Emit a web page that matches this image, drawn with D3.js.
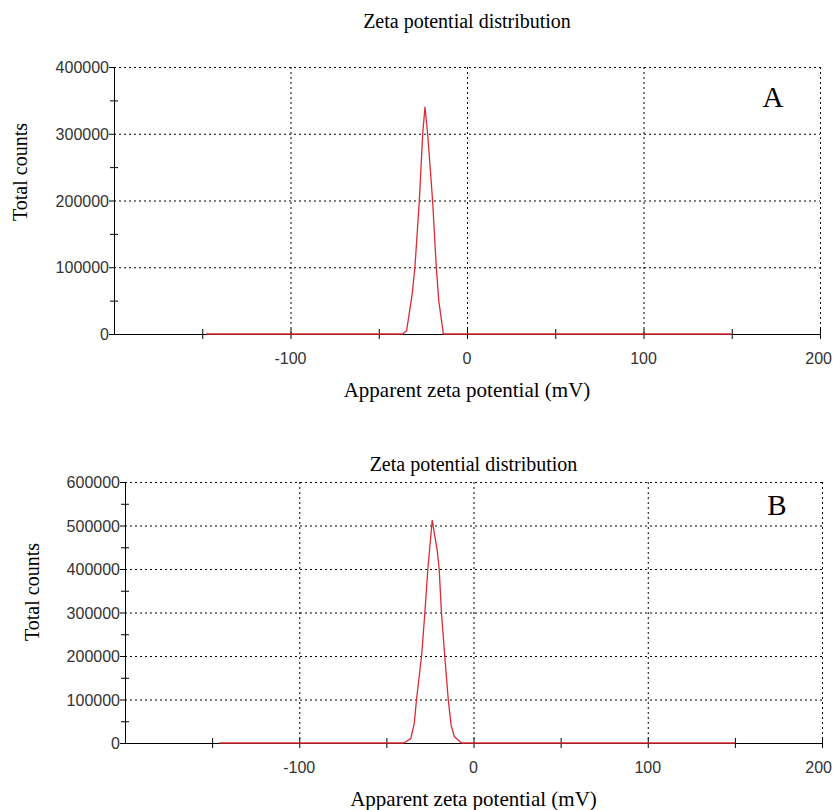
<!DOCTYPE html>
<html lang="en">
<head>
    <meta charset="UTF-8">
    <title>Zeta potential distribution</title>
    <style>
        body { margin: 0; background: #fff; }
        svg { display: block; }
        .title, .axis-title, .panel { font-family: "Liberation Serif", "Times New Roman", serif; fill: #000; }
        .tick-label { font-family: "Liberation Sans", Arial, sans-serif; font-size: 16px; fill: #333; }
        .grid { stroke: #000; stroke-width: 1; stroke-dasharray: 2,3; fill: none; }
    </style>
</head>
<body>
    <div id="chart"></div>
    <script src="https://d3js.org/d3.v7.min.js"></script>
    <script>
        // shared x axis
        const xDomain   = [-200, 200];
        const xTicks    = [-200, -150, -100, -50, 0, 50, 100, 150, 200];
        const xLabels   = [-100, 0, 100, 200];

        // panel A
        const aPotential = [-148, -36.4, -34.2, -31.0, -29.5, -27.0, -25.1, -23.8, -22.3, -19.5, -17.4, -16.0, -13.4, 150];
        const aCounts    = [0, 0, 5000, 61000, 100000, 200000, 300000, 340000, 300000, 200000, 100000, 50000, 0, 0];
        const aYTicks    = [0, 100000, 200000, 300000, 400000];

        // panel B
        const bPotential = [-146, -40, -36, -34, -32.7, -29.8, -27.9, -26.2, -23.7, -20.8, -19.7, -18.4, -16.5, -14.5, -12.8, -11, -7, 150];
        const bCounts    = [0, 0, 10000, 45000, 100000, 200000, 300000, 400000, 512000, 442000, 400000, 300000, 200000, 100000, 40000, 15000, 0, 0];
        const bYTicks    = [0, 100000, 200000, 300000, 400000, 500000, 600000];

        const width  = 833;
        const height = 810;

        const svg = d3.select("#chart").append("svg")
            .attr("width", width).attr("height", height);

        const panels = [
            { name: "A", xs: aPotential, ys: aCounts, yTicks: aYTicks,
              left: 114, right: 820, top: 67, bottom: 334,
              titleY: 28, xTitleY: 397, yTitleX: 27, yTitleY: 172, letter: [773, 107] },
            { name: "B", xs: bPotential, ys: bCounts, yTicks: bYTicks,
              left: 125, right: 822, top: 482, bottom: 743,
              titleY: 471, xTitleY: 806, yTitleX: 39, yTitleY: 592, letter: [777, 515] }
        ];

        panels.forEach(p => {
            const x = d3.scaleLinear().domain(xDomain).range([p.left, p.right]);
            const yMax = d3.max(p.yTicks);
            const y = d3.scaleLinear().domain([0, yMax]).range([p.bottom, p.top]);
            const g = svg.append("g");

            // dotted grid + frame
            g.selectAll(".hgrid").data(p.yTicks.filter(d => d > 0)).enter().append("line")
                .attr("class", "grid")
                .attr("x1", p.left).attr("x2", p.right)
                .attr("y1", d => y(d) + 0.5).attr("y2", d => y(d) + 0.5);
            g.selectAll(".vgrid").data(xLabels).enter().append("line")
                .attr("class", "grid")
                .attr("x1", d => x(d) + 0.5).attr("x2", d => x(d) + 0.5)
                .attr("y1", p.top).attr("y2", p.bottom);

            // axes lines
            g.append("line").attr("x1", p.left + 0.5).attr("x2", p.left + 0.5)
                .attr("y1", p.top).attr("y2", p.bottom).attr("stroke", "#000");
            g.append("line").attr("x1", p.left).attr("x2", p.right)
                .attr("y1", p.bottom + 0.5).attr("y2", p.bottom + 0.5).attr("stroke", "#000");

            // y ticks: major on the left, minor crossing
            g.selectAll(".ymaj").data(p.yTicks).enter().append("line")
                .attr("x1", p.left - 5).attr("x2", p.left)
                .attr("y1", d => y(d) + 0.5).attr("y2", d => y(d) + 0.5)
                .attr("stroke", "#000");
            const minor = p.yTicks.slice(1).map(d => d - 50000);
            g.selectAll(".ymin").data(minor).enter().append("line")
                .attr("x1", p.left - 4).attr("x2", p.left + 4)
                .attr("y1", d => y(d) + 0.5).attr("y2", d => y(d) + 0.5)
                .attr("stroke", "#000");
            g.selectAll(".ylab").data(p.yTicks).enter().append("text")
                .attr("class", "tick-label")
                .attr("x", p.left - 5).attr("y", d => y(d) + 6)
                .attr("text-anchor", "end")
                .text(d => d);

            // x ticks crossing the axis
            g.selectAll(".xtick").data(xTicks.filter(d => d > xDomain[0])).enter().append("line")
                .attr("x1", d => x(d) + 0.5).attr("x2", d => x(d) + 0.5)
                .attr("y1", p.bottom - 5).attr("y2", p.bottom + 5)
                .attr("stroke", "#000");
            // last label sits against the page edge, so keep it inside
            g.selectAll(".xlab").data(xLabels).enter().append("text")
                .attr("class", "tick-label")
                .attr("x", d => d === xDomain[1] ? width - 1 : x(d))
                .attr("y", p.bottom + 30)
                .attr("text-anchor", d => d === xDomain[1] ? "end" : "middle")
                .text(d => d);

            // data line
            const line = d3.line().x(d => x(d[0])).y(d => y(d[1]));
            g.append("path")
                .datum(d3.zip(p.xs, p.ys))
                .attr("d", line)
                .attr("fill", "none")
                .attr("stroke", "#dd2a35")
                .attr("stroke-width", 1.3)
                .attr("stroke-linejoin", "round");

            // texts
            const cx = (p.left + p.right) / 2;
            g.append("text").attr("class", "title")
                .attr("x", cx).attr("y", p.titleY)
                .attr("text-anchor", "middle").attr("font-size", 20)
                .text("Zeta potential distribution");
            g.append("text").attr("class", "axis-title")
                .attr("x", cx).attr("y", p.xTitleY)
                .attr("text-anchor", "middle").attr("font-size", 21)
                .text("Apparent zeta potential (mV)");
            g.append("text").attr("class", "axis-title")
                .attr("transform", `translate(${p.yTitleX},${p.yTitleY}) rotate(-90)`)
                .attr("text-anchor", "middle").attr("font-size", 20)
                .text("Total counts");
            g.append("text").attr("class", "panel")
                .attr("x", p.letter[0]).attr("y", p.letter[1])
                .attr("text-anchor", "middle").attr("font-size", 29)
                .text(p.name);
        });
    </script>
</body>
</html>
